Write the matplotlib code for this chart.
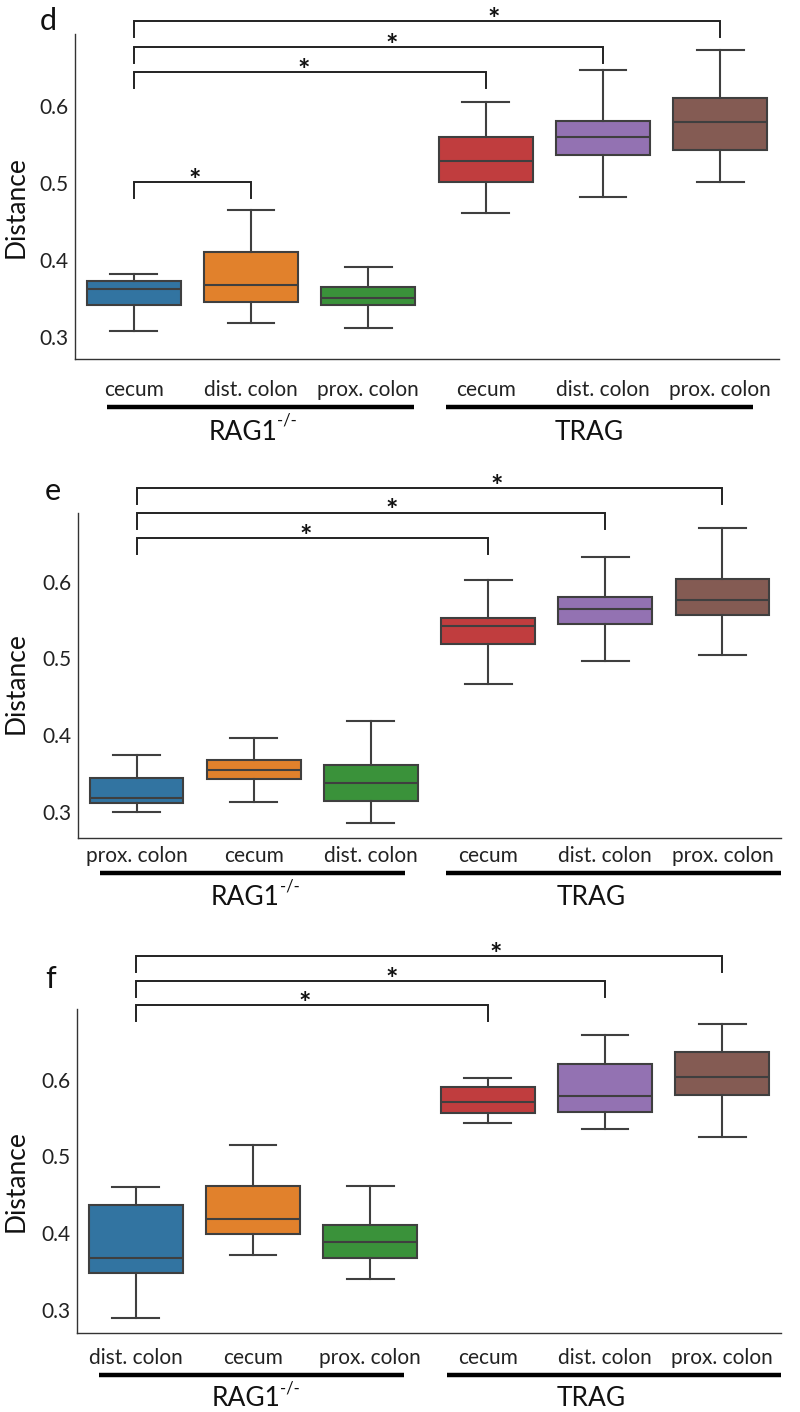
import numpy as np
import matplotlib
matplotlib.use("Agg")
import matplotlib.pyplot as plt
from matplotlib import transforms

plt.rcParams['font.family'] = ['Lato', 'DejaVu Sans']

# ---- data ----
colors = ["#3274a1", "#e1812c", "#3a923a", "#c03d3e", "#9372b2", "#845b53"]

labels_d = ["cecum", "dist. colon", "prox. colon", "cecum", "dist. colon", "prox. colon"]
d_whislo = [0.308, 0.318, 0.312, 0.461, 0.482, 0.501]
d_q1 = [0.342, 0.346, 0.342, 0.501, 0.536, 0.543]
d_med = [0.362, 0.3675, 0.351, 0.529, 0.560, 0.579]
d_q3 = [0.373, 0.410, 0.365, 0.560, 0.580, 0.610]
d_whishi = [0.382, 0.465, 0.391, 0.605, 0.647, 0.673]

labels_e = ["prox. colon", "cecum", "dist. colon", "cecum", "dist. colon", "prox. colon"]
e_whislo = [0.300, 0.312, 0.285, 0.467, 0.496, 0.504]
e_q1 = [0.311, 0.342, 0.314, 0.518, 0.545, 0.557]
e_med = [0.3175, 0.354, 0.338, 0.5425, 0.564, 0.576]
e_q3 = [0.3435, 0.367, 0.361, 0.552, 0.580, 0.604]
e_whishi = [0.374, 0.396, 0.418, 0.602, 0.632, 0.6695]

labels_f = ["dist. colon", "cecum", "prox. colon", "cecum", "dist. colon", "prox. colon"]
f_whislo = [0.289, 0.371, 0.340, 0.544, 0.536, 0.526]
f_q1 = [0.348, 0.399, 0.367, 0.5565, 0.558, 0.580]
f_med = [0.367, 0.419, 0.388, 0.571, 0.579, 0.604]
f_q3 = [0.436, 0.461, 0.410, 0.590, 0.621, 0.636]
f_whishi = [0.4595, 0.515, 0.462, 0.603, 0.6585, 0.673]

groups = ["RAG1", "TRAG"]
group_sup = ["-/-", ""]

# significance brackets: (from box, to box, height, star x)
brackets_d = [(0, 1, 0.501, 0.52), (0, 3, 0.644, 1.45), (0, 4, 0.677, 2.2), (0, 5, 0.710, 3.07)]
brackets_e = [(0, 3, 0.657, 1.44), (0, 4, 0.690, 2.18), (0, 5, 0.722, 3.07)]
brackets_f = [(0, 3, 0.697, 1.44), (0, 4, 0.729, 2.18), (0, 5, 0.762, 3.07)]

W, H = 800, 1412
fig = plt.figure(figsize=(W / 100, H / 100), dpi=100)

LINE = "#3f3f3f"


def draw_panel(letter, box, ylim, labels, lo, q1, med, q3, hi, brackets,
               grp_lines, grp_x, tick_pad, line_off, label_off, ylab_y, letter_xy):
    left, top, right, bottom = box
    ax = fig.add_axes([left / W, 1 - bottom / H, (right - left) / W, (bottom - top) / H])
    stats = []
    for i in range(len(labels)):
        stats.append(dict(med=med[i], q1=q1[i], q3=q3[i], whislo=lo[i], whishi=hi[i], fliers=[]))
    pos = np.arange(len(labels))
    bp = ax.bxp(stats, positions=pos, widths=0.8, patch_artist=True, showfliers=False,
                boxprops=dict(edgecolor=LINE, linewidth=1.5),
                medianprops=dict(color=LINE, linewidth=1.5),
                whiskerprops=dict(color=LINE, linewidth=1.5),
                capprops=dict(color=LINE, linewidth=1.5))
    for patch, c in zip(bp["boxes"], colors):
        patch.set_facecolor(c)

    ax.set_xlim(-0.5, len(labels) - 0.5)
    ax.set_ylim(*ylim)
    ax.set_yticks([0.3, 0.4, 0.5, 0.6])
    ax.set_yticklabels(["0.3", "0.4", "0.5", "0.6"])
    ax.set_xticks(pos)
    ax.set_xticklabels(labels)
    ax.tick_params(axis="y", length=0, pad=5, labelsize=15, labelcolor="#222222")
    ax.tick_params(axis="x", length=0, pad=tick_pad, labelsize=15, labelcolor="#222222")
    for s in ["top", "right"]:
        ax.spines[s].set_visible(False)
    for s in ["left", "bottom"]:
        ax.spines[s].set_linewidth(1.0)
        ax.spines[s].set_color("#333333")

    ah = bottom - top
    dy = 16.0 / ah * (ylim[1] - ylim[0])
    for i, j, y, sx in brackets:
        ax.plot([i, i, j, j], [y - dy, y, y, y - dy], color="#222222", lw=1.4,
                clip_on=False, solid_joinstyle="miter")
        tr = transforms.offset_copy(ax.transData, fig=fig, x=0, y=-5, units="points")
        ax.text(sx, y, "*", ha="center", va="baseline", fontsize=21, fontweight="bold",
                color="#111111", transform=tr)

    xt = ax.get_xaxis_transform()
    for (x0, x1), gx, g, sup in zip(grp_lines, grp_x, groups, group_sup):
        ax.plot([x0, x1], [-line_off / ah] * 2, color="black", lw=3.2,
                transform=xt, clip_on=False, solid_capstyle="butt")
        t = ax.text(gx, -label_off / ah, g, ha="center", va="center", fontsize=19,
                    color="#111111", transform=xt)
        if sup:
            ax.annotate(sup, xy=(1.0, 0.62), xycoords=t, ha="left", va="bottom",
                        fontsize=12, color="#111111")

    fig.text(16 / W, 1 - ylab_y / H, "Distance", rotation=90, ha="center", va="center",
             fontsize=19, color="#111111")
    fig.text(letter_xy[0] / W, 1 - letter_xy[1] / H, letter, ha="left", va="baseline",
             fontsize=22, color="#111111")
    return ax


draw_panel("d", (75, 34, 779, 359), (0.2714, 0.6935), labels_d,
           d_whislo, d_q1, d_med, d_q3, d_whishi, brackets_d,
           [(-0.23, 2.385), (2.666, 5.28)], [0.93, 3.88], 15, 48, 73, 207.5, (40, 30))
draw_panel("e", (78, 513, 781, 838), (0.2657, 0.6894), labels_e,
           e_whislo, e_q1, e_med, e_q3, e_whishi, brackets_e,
           [(-0.315, 2.29), (2.64, 5.5)], [0.93, 3.88], 5.5, 35, 59.5, 682.7, (45, 500))
draw_panel("f", (77, 1009, 781, 1333), (0.2696, 0.6924), labels_f,
           f_whislo, f_q1, f_med, f_q3, f_whishi, brackets_f,
           [(-0.31, 2.29), (2.65, 5.5)], [0.94, 3.88], 10.5, 42, 66, 1181, (45, 988))

fig.savefig("out.png", dpi=100)
